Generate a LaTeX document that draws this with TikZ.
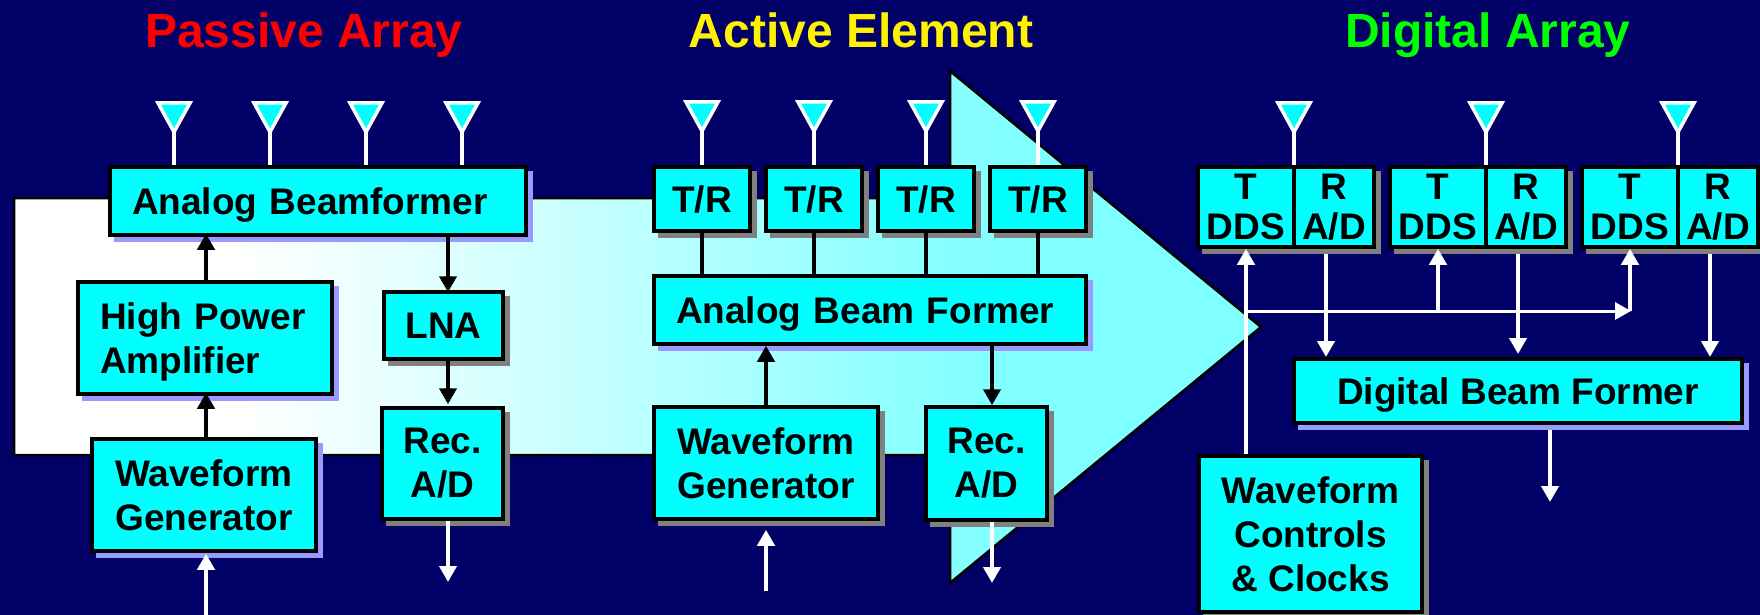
\documentclass[tikz,border=0pt]{standalone}
\usepackage{fontspec}
\setmainfont{Liberation Sans}
\usetikzlibrary{arrows.meta,shadows}
\definecolor{navybg}{RGB}{0,0,102}
\definecolor{unitcyan}{RGB}{0,255,255}
\definecolor{bandcyan}{RGB}{127,255,255}
\definecolor{bandone}{RGB}{222,255,255}
\definecolor{bandtwo}{RGB}{177,255,255}
\definecolor{bandthree}{RGB}{138,255,255}
\definecolor{shadegray}{RGB}{128,128,128}
\definecolor{shadeblue}{RGB}{153,153,255}
\pgfdeclarehorizontalshading{bandshade}{100bp}{color(0bp)=(white); color(34.1bp)=(white); color(42.5bp)=(bandone); color(52.6bp)=(bandtwo); color(61.6bp)=(bandthree); color(66bp)=(bandcyan); color(100bp)=(bandcyan)}
\tikzset{
  unitbox/.style={draw=black,line width=3.5pt,fill=unitcyan,inner sep=0pt,align=center,
    font=\fontsize{37}{44}\selectfont\bfseries},
  grayback/.style={general shadow={shadow xshift=5.5pt,shadow yshift=-5.5pt,fill=shadegray,draw=shadegray,line width=3.5pt}},
  blueback/.style={general shadow={shadow xshift=5.5pt,shadow yshift=-5.5pt,fill=shadeblue,draw=shadeblue,line width=3.5pt}},
  ddsbox/.style={unitbox,grayback,minimum height=80,font=\fontsize{37}{40}\selectfont\bfseries},
  blackline/.style={line width=4pt,-{Triangle[length=16pt,width=17pt]}},
  whiteline/.style={blackline,white},
  antenna/.style={draw=white,line width=3.5pt,fill=unitcyan,miter limit=10},
  stem/.style={white,line width=4pt},
  arraytitle/.style={font=\fontsize{48}{50}\selectfont\bfseries,anchor=base}
}
\begin{document}
\begin{tikzpicture}[x=1pt,y=-1pt]
    \useasboundingbox (0,0) rectangle (1760,615);
    \fill[navybg] (0,0) rectangle (1760,615);
    % Flecha de fondo
    \shade[shading=bandshade,draw=black,line width=2.5pt]
        (14,198) -- (950,198) -- (950,71) -- (1261,327) -- (950,583) -- (950,455) -- (14,455) -- cycle;
    \node[arraytitle,red] (tpassive) at (304,48) {Passive Array};
    \node[arraytitle,yellow] (tactive) at (861,48) {Active Element};
    \node[arraytitle,green] (tdigital) at (1488,48) {Digital Array};
    % Passive
    \node[unitbox,blueback,minimum width=416,minimum height=68,inner xsep=22pt,text width=372pt,align=left,text depth=0pt] (ab) at (318,201) {Analog Beamformer};
    \node[unitbox,blueback,minimum width=254,minimum height=112,inner xsep=22pt,text width=210pt,align=left,text depth=44pt] (hpa) at (205,338) {High Power\\Amplifier};
    \node[unitbox,blueback,minimum width=224,minimum height=112] (wga) at (204,495) {Waveform\\Generator};
    \node[unitbox,grayback,minimum width=119,minimum height=67] (lna) at (443.5,325.5) {LNA};
    \node[unitbox,grayback,minimum width=121,minimum height=111] (reca) at (442.5,463.5) {Rec.\\A/D};
    % Active
    \foreach \n/\x in {1/702,2/814,3/926,4/1038}
        \node[unitbox,grayback,minimum width=96,minimum height=64] (tr\n) at (\x,199) {T/R};
    \node[unitbox,blueback,minimum width=432,minimum height=68,inner xsep=22pt,text width=388pt,align=left,text depth=0pt] (abf) at (870,310) {Analog Beam Former};
    \node[unitbox,grayback,minimum width=224,minimum height=112] (wgb) at (766,463) {Waveform\\Generator};
    \node[unitbox,grayback,minimum width=121,minimum height=113] (recb) at (986.5,463.5) {Rec.\\A/D};
    % Digital
    \foreach \n/\x in {1/1246,2/1438,3/1630} {
        \node[ddsbox,minimum width=96] (dt\n) at (\x,207) {T\\DDS};
        \node[ddsbox,minimum width=80] (dr\n) at (\x+88,207) {R\\A/D};
    }
    \node[unitbox,blueback,minimum width=448,minimum height=64,text depth=0pt] (dbf) at (1518,391) {Digital Beam Former};
    \node[unitbox,grayback,minimum width=223,minimum height=156] (wcc) at (1310.5,534) {Waveform\\Controls\\\& Clocks};
    % Antenas
    \foreach \x/\y/\b in {174/135/ab,270/135/ab,366/135/ab,462/135/ab,
        702/134/tr1,814/134/tr2,926/134/tr3,1038/134/tr4,
        1294/135/dt1,1486/135/dt2,1678/135/dt3} {
        \draw[antenna] (\x-16,\y-32) -- (\x+16,\y-32) -- (\x,\y-3) -- cycle;
        \coordinate (feed) at (\x,\y-3);
        \draw[stem] (feed) -- (\x,165);
    }
    % Passive arrows
    \coordinate (lnax) at (448,582);
    \coordinate (wgin) at (206,616);
    \draw[blackline,shorten >=-3pt] (hpa.north -| wgin) -- (ab.south -| wgin);
    \draw[blackline,shorten <=-4pt,shorten >=-3pt] (wga.north -| wgin) -- (hpa.south -| wgin);
    \draw[blackline,shorten <=-4pt,shorten >=-2pt] (ab.south -| lnax) -- (lna.north -| lnax);
    \draw[blackline,shorten >=2pt] (lna.south -| lnax) -- (reca.north -| lnax);
    \draw[whiteline] (reca.south -| lnax) -- (lnax);
    \draw[whiteline,shorten >=1pt] (wgin) -- (wgin |- wga.south);
    % Active arrows
    \coordinate (recbx) at (992,583);
    \coordinate (wgbin) at (766,591);
    \foreach \n in {1,2,3,4}
        \draw[black,line width=4pt] (tr\n.south) -- (tr\n.south |- abf.north);
    \draw[blackline] (wgb.north) -- (wgb.north |- abf.south);
    \draw[blackline] (abf.south -| recbx) -- (recb.north -| recbx);
    \draw[whiteline] (recb.south -| recbx) -- (recbx);
    \draw[whiteline,shorten >=9pt] (wgbin) -- (wgbin |- wgb.south);
    % Digital arrows
    \coordinate (busl) at (1246,311);
    \coordinate (busr) at (1631,311);
    \coordinate (dbfa) at (1326,357);
    \coordinate (dbfb) at (1518,354);
    \coordinate (dbfc) at (1710,357);
    \coordinate (dbfout) at (1550,502);
    \draw[whiteline] (dt1.south |- wcc.north) -- (dt1.south);
    \draw[whiteline] (busl -| dt2.south) -- (dt2.south);
    \draw[whiteline] (busl -| dt3.south) -- (dt3.south);
    \draw[whiteline,line width=3pt] (busl) -- (busr);
    \draw[whiteline,shorten <=5pt] (dbfa |- dr1.south) -- (dbfa);
    \draw[whiteline,shorten <=5pt] (dbfb |- dr2.south) -- (dbfb);
    \draw[whiteline,shorten <=5pt] (dbfc |- dr3.south) -- (dbfc);
    \draw[whiteline,shorten <=5pt] (dbf.south -| dbfout) -- (dbfout);
\end{tikzpicture}
\end{document}
